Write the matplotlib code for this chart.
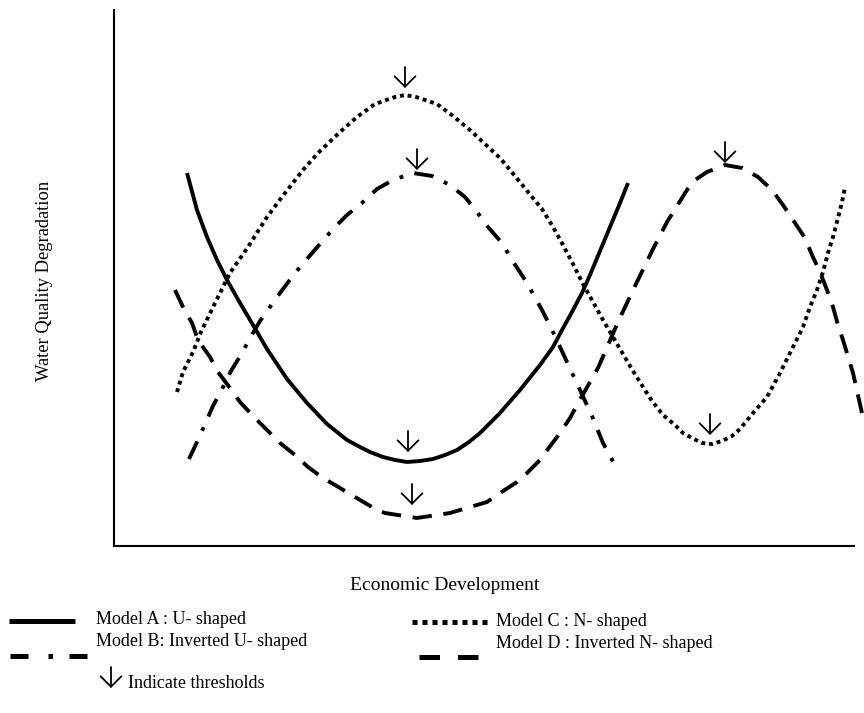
import matplotlib.pyplot as plt
from matplotlib.lines import Line2D
from matplotlib.patches import FancyArrowPatch

plt.rcParams["font.family"] = ["Liberation Serif", "DejaVu Sans"]

# readings (x: economic development, y: water quality degradation)
a_x = [73, 83, 93, 103, 113, 126, 139, 153, 173, 193, 213, 233, 246, 256, 269, 281, 293,
       306, 319, 331, 343, 355, 366, 386, 406, 426, 439, 448, 458, 468, 476, 486, 496,
       506, 514]
a_y = [373, 336, 309, 286, 266, 243, 221, 197, 167, 143, 122, 106, 99, 94, 89, 86, 84,
       85, 87, 91, 96, 104, 113, 133, 156, 181, 199, 216, 234, 253, 271, 295, 319,
       343, 363]

b_x = [75, 83, 91, 99, 108, 117, 128, 136, 146, 163, 181, 199, 219, 233, 248, 263, 279,
       299, 318, 336, 351, 363, 374, 388, 398, 413, 428, 441, 453, 466, 478, 489, 502]
b_y = [87, 104, 122, 140, 157, 175, 193, 208, 225, 249, 273, 294, 317, 331, 343, 357, 366,
       373, 370, 361, 349, 334, 319, 303, 286, 263, 236, 210, 184, 156, 130, 103, 79]

c_x = [63, 69, 79, 87, 101, 116, 134, 153, 171, 189, 204, 226, 243, 261, 281, 291, 302,
       323, 339, 356, 371, 386, 401, 414, 428, 439, 449, 459, 469, 479, 489, 499, 509,
       519, 529, 538, 549, 561, 569, 578, 588, 598, 608, 618, 626, 639, 653, 666, 679,
       689, 696, 703, 709, 714, 719, 724, 728, 731]
c_y = [154, 174, 194, 214, 243, 273, 299, 329, 353, 376, 393, 414, 429, 442, 449, 451, 449,
       442, 430, 416, 402, 388, 370, 354, 337, 319, 301, 282, 262, 244, 226, 209, 192,
       175, 159, 145, 131, 121, 113, 108, 103, 102, 105, 110, 117, 133, 149, 173, 199,
       219, 239, 256, 274, 293, 309, 328, 344, 359]

d_x = [61, 69, 78, 84, 96, 104, 116, 126, 141, 153, 166, 181, 194, 209, 226, 241, 263,
       271, 303, 336, 373, 383, 403, 413, 426, 434, 446, 456, 468, 484, 491, 504, 521,
       539, 553, 568, 578, 593, 611, 628, 644, 658, 669, 679, 691, 698, 706, 713, 719,
       724, 729, 739, 748]
d_y = [256, 239, 223, 206, 189, 174, 158, 144, 128, 116, 103, 91, 79, 68, 58, 49, 36,
       33, 28, 33, 44, 51, 64, 73, 86, 97, 113, 128, 150, 178, 194, 224, 260,
       297, 324, 348, 364, 374, 381, 378, 369, 356, 341, 326, 308, 291, 274, 256, 239,
       221, 206, 173, 133]

# threshold arrows (tip positions)
thr_x = [291, 303, 611, 294, 298, 596]
thr_y = [458, 376, 383, 94, 41, 111]

fig = plt.figure(figsize=(8.64, 7.13), dpi=100)
ax = fig.add_axes([114 / 864, 167 / 713, 740 / 864, 536 / 713])

lw = 2.8
ax.plot(a_x, a_y, color="black", lw=lw, solid_capstyle="butt",
        solid_joinstyle="round", clip_on=False)
ax.plot(b_x, b_y, color="black", lw=lw, linestyle=(0, (5, 3, 1, 3)),
        dash_capstyle="butt", clip_on=False)
ax.plot(c_x, c_y, color="black", lw=lw, linestyle=(0, (1, 1)),
        dash_capstyle="butt", clip_on=False)
ax.plot(d_x, d_y, color="black", lw=lw, linestyle=(0, (5, 3)),
        dash_capstyle="butt", clip_on=False)

arrow_style = "->, head_length=0.25, head_width=0.25"
for x, y in zip(thr_x, thr_y):
    ax.annotate("", xy=(x, y), xytext=(x, y + 21),
                arrowprops=dict(arrowstyle=arrow_style, lw=1.3, color="black",
                                mutation_scale=30, shrinkA=0, shrinkB=0))

ax.set_xlim(0, 740)
ax.set_ylim(0, 536)
ax.set_xticks([])
ax.set_yticks([])
ax.spines["top"].set_visible(False)
ax.spines["right"].set_visible(False)
ax.spines["left"].set_linewidth(1.5)
ax.spines["bottom"].set_linewidth(1.5)

fig.text(45 / 864, 1 - 281 / 713, "Water Quality Degradation", rotation=90,
         ha="center", va="center", fontsize=13.3)
fig.text(445 / 864, 1 - 585 / 713, "Economic Development",
         ha="center", va="center", fontsize=14)


# hand-made legend
def legend_line(x0, x1, y, **kw):
    fig.add_artist(Line2D([x0 / 864, x1 / 864], [1 - y / 713, 1 - y / 713],
                          color="black", lw=3.6, dash_capstyle="butt",
                          solid_capstyle="butt", **kw))


legend_line(9, 75, 621)
legend_line(10, 87, 656, linestyle=(0, (3.6, 4, 0.9, 3.3)))
legend_line(412, 490, 622, linestyle=(0, (1, 1)))
legend_line(419, 478, 657, linestyle=(0, (4.1, 3.6)))

fig.text(96 / 864, 1 - 620 / 713, "Model A : U- shaped", va="center", fontsize=13)
fig.text(96 / 864, 1 - 641 / 713, "Model B: Inverted U- shaped", va="center", fontsize=13)
fig.text(496 / 864, 1 - 621 / 713, "Model C : N- shaped", va="center", fontsize=13)
fig.text(496 / 864, 1 - 643 / 713, "Model D : Inverted N- shaped", va="center", fontsize=13)

fig.add_artist(FancyArrowPatch(
    (111 / 864, 1 - 667 / 713), (111 / 864, 1 - 688 / 713),
    transform=fig.transFigure, arrowstyle=arrow_style, lw=1.3, color="black",
    mutation_scale=30, shrinkA=0, shrinkB=0))
fig.text(128 / 864, 1 - 683 / 713, "Indicate thresholds", va="center", fontsize=13)

fig.savefig("out.png", dpi=100)
